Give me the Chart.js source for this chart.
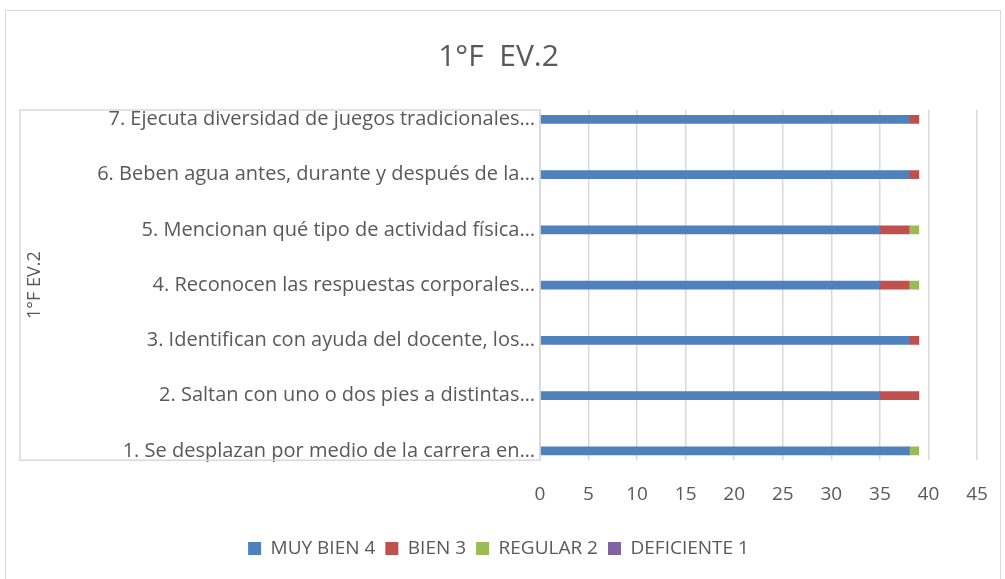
<!DOCTYPE html>
<html>
<head>
<meta charset="utf-8">
<script src="https://cdn.jsdelivr.net/npm/chart.js@4"></script>
<style>
  body { margin: 0; background: #fff; }
  #frame { position: absolute; left: 5px; top: 10px; width: 994px; height: 568px; border: 1px solid #d9d9d9; }
  canvas { position: absolute; left: 0; top: 0; }
</style>
</head>
<body>
<div id="frame"></div>
<canvas id="chart" width="1005" height="579"></canvas>
<script>
// categories, listed bottom to top as in the picture
const categories = [
  '1. Se desplazan por medio de la carrera en…',
  '2. Saltan con uno o dos pies a distintas…',
  '3. Identifican con ayuda del docente, los…',
  '4. Reconocen las respuestas corporales…',
  '5. Mencionan qué tipo de actividad física…',
  '6. Beben agua antes, durante y después de la…',
  '7. Ejecuta diversidad de juegos tradicionales…'
];
const muyBien = [38, 35, 38, 35, 35, 38, 38];
const bien = [0, 4, 1, 3, 3, 1, 1];
const regular = [1, 0, 0, 1, 1, 0, 0];
const deficiente = [0, 0, 0, 0, 0, 0, 0];
const xTicks = [0, 5, 10, 15, 20, 25, 30, 35, 40, 45];

const fontFamily = "'Open Sans', 'Noto Sans', sans-serif";
const grey = '#595959';

// bars sit on a numeric index axis so the first/last bar can hug the plot edges like Excel does
const toPoints = arr => arr.map((v, i) => ({ x: v, y: i }));

// thin grey frame round the category label area
const labelBox = {
  id: 'labelBox',
  afterDraw(chart) {
    const { ctx, chartArea } = chart;
    ctx.save();
    ctx.strokeStyle = '#d9d9d9';
    ctx.lineWidth = 1.5;
    ctx.strokeRect(20, chartArea.top, chartArea.left - 20, chartArea.bottom - chartArea.top);
    ctx.restore();
  }
};

new Chart(document.getElementById('chart'), {
  type: 'bar',
  data: {
    datasets: [
      { label: 'MUY BIEN 4', data: toPoints(muyBien), backgroundColor: '#4f81bd' },
      { label: 'BIEN 3', data: toPoints(bien), backgroundColor: '#c0504d' },
      { label: 'REGULAR 2', data: toPoints(regular), backgroundColor: '#9bbb59' },
      { label: 'DEFICIENTE 1', data: toPoints(deficiente), backgroundColor: '#8064a2' }
    ]
  },
  options: {
    responsive: false,
    animation: false,
    indexAxis: 'y',
    layout: { padding: { left: 20, right: 28, top: 19, bottom: 11 } },
    datasets: { bar: { barThickness: 8 } },
    scales: {
      x: {
        stacked: true,
        min: 0,
        max: 45,
        afterBuildTicks: scale => { scale.ticks = xTicks.map(v => ({ value: v })); },
        afterFit: scale => { scale.paddingRight = 0; },
        grid: { color: '#d9d9d9', lineWidth: 1.5, drawTicks: false },
        border: { display: false },
        ticks: { color: grey, font: { family: fontFamily, size: 19 }, padding: 23 }
      },
      y: {
        type: 'linear',
        stacked: true,
        offset: false,
        min: -0.17,
        max: 6.17,
        afterBuildTicks: scale => { scale.ticks = categories.map((c, i) => ({ value: i })); },
        grid: { display: false, drawTicks: false, offset: false },
        border: { display: false },
        ticks: {
          color: grey,
          font: { family: fontFamily, size: 20 },
          padding: 5,
          callback: value => categories[value]
        },
        title: { display: true, text: '1°F EV.2', color: grey, font: { family: fontFamily, size: 18 } },
        afterFit: scale => { scale.width = 520; }
      }
    },
    plugins: {
      title: {
        display: true,
        text: '1°F  EV.2',
        color: grey,
        font: { family: fontFamily, size: 30, weight: 'normal' },
        padding: { top: 20, bottom: 35 }
      },
      legend: {
        position: 'bottom',
        labels: { color: grey, font: { family: fontFamily, size: 19 }, boxWidth: 13, boxHeight: 13, padding: 10 }
      },
      tooltip: { enabled: false }
    }
  },
  plugins: [labelBox]
});
</script>
</body>
</html>
